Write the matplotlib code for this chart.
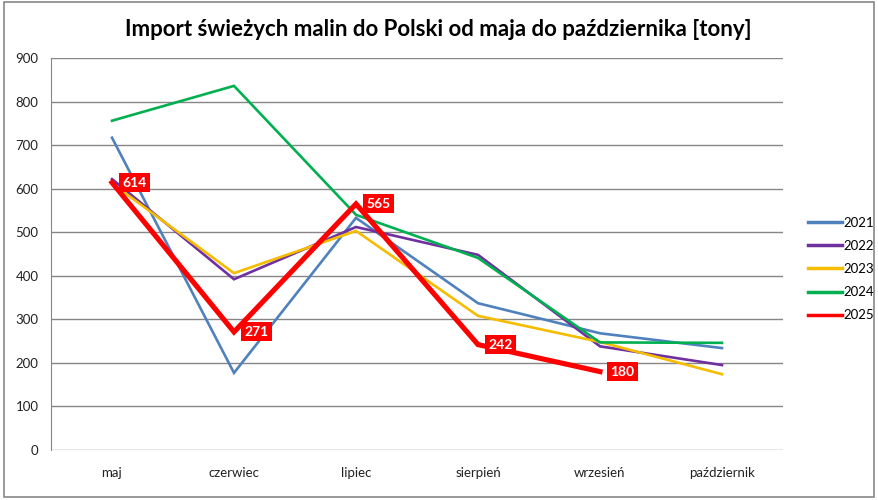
import matplotlib
matplotlib.use("Agg")
import matplotlib.pyplot as plt
from matplotlib.patches import Rectangle

months = ['maj', 'czerwiec', 'lipiec', 'sierpień', 'wrzesień', 'październik']
y2021 = [717, 177, 533, 337, 268, 234]
y2022 = [622, 392, 512, 448, 238, 195]
y2023 = [612, 406, 503, 308, 248, 174]
y2024 = [756, 836, 540, 441, 247, 246]
y2025 = [614, 271, 565, 242, 180]

series = [('2021', y2021, '#4F81BD'), ('2022', y2022, '#7030A0'),
          ('2023', y2023, '#F5BC00'), ('2024', y2024, '#00B050'),
          ('2025', y2025, '#FF0000')]

plt.rcParams['font.family'] = ['Lato', 'DejaVu Sans']

fig = plt.figure(figsize=(8.79, 5.0), dpi=100)
fig.patches.append(Rectangle((0.004, 0.006), 0.99, 0.99, transform=fig.transFigure,
                             fill=False, ec='#888888', lw=1.2))
ax = fig.add_axes([51 / 879, 50 / 500, 732 / 879, 392 / 500])

x = list(range(len(months)))
for name, vals, col in series:
    lw = 3.7 if name == '2025' else 1.9
    ax.plot(x[:len(vals)], vals, color=col, lw=lw, label=name,
            solid_joinstyle='miter', zorder=3 if name == '2025' else 2)

# data labels on the 2025 line, placed right of each point
for i, v in enumerate(y2025):
    ax.annotate(str(v), (i, v), xytext=(10, 0), textcoords='offset pixels',
                color='white', fontsize=10, fontweight='bold',
                ha='left', va='center', zorder=5,
                bbox=dict(boxstyle='square,pad=0.25', fc='#FF0000', ec='none'))

ax.set_xlim(-0.5, 5.5)
ax.set_ylim(0, 900)
ax.set_yticks(range(0, 901, 100))
ax.set_xticks(x)
ax.set_xticklabels(months)
ax.yaxis.grid(True, color='#868686', lw=1)
ax.set_axisbelow(True)
for s in ['top', 'right', 'bottom']:
    ax.spines[s].set_visible(False)
ax.spines['left'].set_color('#868686')
ax.tick_params(length=0, labelsize=9.5, colors='#222222')
ax.tick_params(axis='x', pad=12)
ax.tick_params(axis='y', pad=9)

fig.text(438 / 879, 1 - 30 / 500, 'Import świeżych malin do Polski od maja do października [tony]',
         ha='center', va='center', fontsize=16, fontweight='bold')

fig.legend(loc='center left', bbox_to_anchor=(796 / 879, 1 - 269 / 500), frameon=False,
           handlelength=2.6, handletextpad=0.1, labelspacing=0.85, fontsize=9.5)
leg = fig.legends[0]
for h in leg.get_lines():
    h.set_linewidth(2.5)

fig.savefig('out.png', dpi=100)
